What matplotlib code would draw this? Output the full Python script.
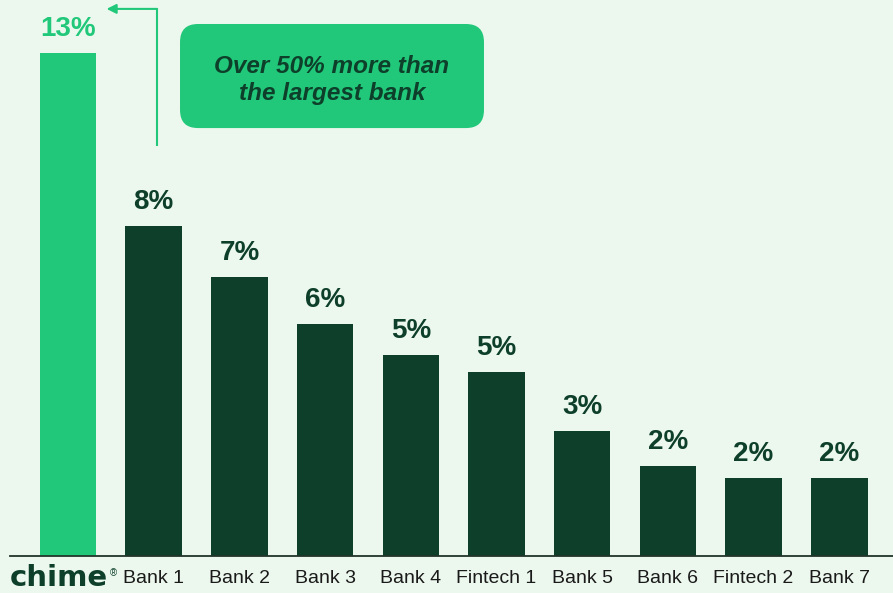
import numpy as np
import matplotlib.pyplot as plt
from matplotlib.patches import FancyBboxPatch
from matplotlib.transforms import ScaledTranslation

# Data
categories = ['chime', 'Bank 1', 'Bank 2', 'Bank 3', 'Bank 4', 'Fintech 1',
              'Bank 5', 'Bank 6', 'Fintech 2', 'Bank 7']
values = [13.0, 8.53, 7.21, 5.99, 5.19, 4.75, 3.23, 2.33, 2.02, 2.02]
labels = ['13%', '8%', '7%', '6%', '5%', '5%', '3%', '2%', '2%', '2%']
callout = 'Over 50% more than\nthe largest bank'

bg = '#ECF8EE'
bright = '#21C87A'
dark = '#0D3F2A'

plt.rcParams['font.family'] = ['Liberation Sans', 'DejaVu Sans']

fig = plt.figure(figsize=(8.93, 5.93), dpi=100, facecolor=bg)
ax = fig.add_axes([10 / 893, 37 / 593, 883 / 893, 556 / 593])
ax.set_facecolor(bg)

x = np.arange(len(categories))
colors = [bright] + [dark] * (len(categories) - 1)
ax.bar(x, values, width=0.66, color=colors)

for xi, v, lab, c in zip(x, values, labels, colors):
    ax.annotate(lab, (xi, v), xytext=(0, 8), textcoords='offset points',
                ha='center', va='bottom', fontsize=20, fontweight='bold', color=c)

ax.set_xlim(-0.677, 9.627)
ax.set_ylim(0, 14.37)

for s in ['top', 'right', 'left']:
    ax.spines[s].set_visible(False)
ax.spines['bottom'].set_color('#22352B')
ax.spines['bottom'].set_linewidth(1.3)
ax.set_yticks([])
ax.set_xticks(x)
ax.set_xticklabels(categories, fontsize=14, color='#1A1A1A')
ax.tick_params(axis='x', length=0, pad=10)

# brand logo in place of the first tick label
first = ax.get_xticklabels()[0]
first.set_fontsize(21)
first.set_fontweight('heavy')
first.set_color(dark)
first.set_family(['DejaVu Sans'])
first.set_transform(first.get_transform() + ScaledTranslation(-9 / 100, 6 / 100, fig.dpi_scale_trans))
ax.text(0.53, -0.45, '®', fontsize=7, color=dark, ha='center', va='center')

# callout arrow
ax.annotate('', xy=(0.45, 14.14), xytext=(1.04, 14.14),
            arrowprops=dict(arrowstyle='-|>', color=bright, lw=1.5,
                            mutation_scale=14, shrinkA=0, shrinkB=0))
ax.plot([1.04, 1.04], [14.14, 10.6], color=bright, lw=1.5, solid_capstyle='butt')

# callout box
box = FancyBboxPatch((1.307, 11.06), 3.547, 2.69,
                     boxstyle='round,pad=0,rounding_size=0.21',
                     mutation_aspect=85.7 / 38.7,
                     facecolor=bright, edgecolor='none')
ax.add_patch(box)
ax.text(3.08, 12.3, callout, ha='center', va='center', fontsize=17.5,
        fontweight='bold', fontstyle='italic', color=dark, linespacing=1.2)

fig.savefig('out.png', dpi=100, facecolor=bg)
